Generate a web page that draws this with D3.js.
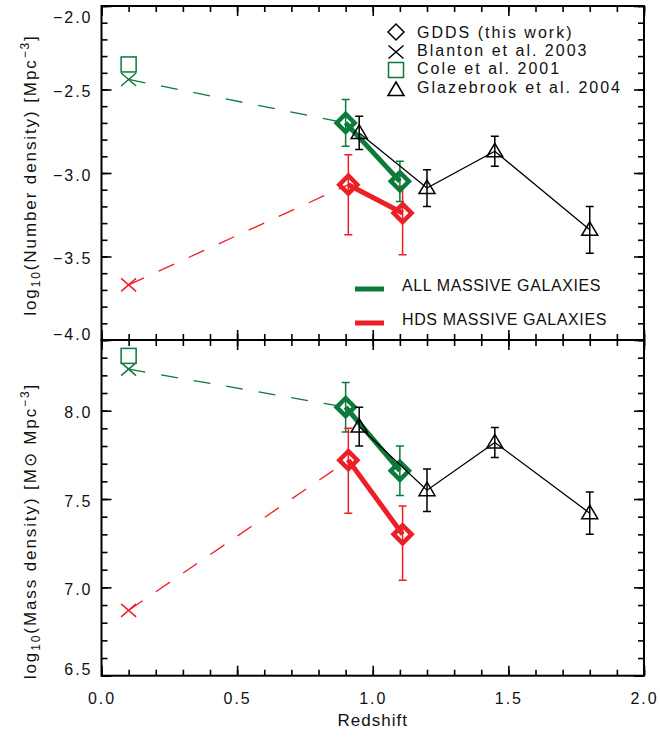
<!DOCTYPE html>
<html>
<head>
<meta charset="utf-8">
<script src="https://cdn.jsdelivr.net/npm/d3@7"></script>
<style>
  body { margin: 0; background: #fff; }
  svg text { font-family: "Liberation Sans", Arial, sans-serif; fill: #111; }
</style>
</head>
<body>
<div id="chart"></div>
<script>
// redshifts
var zAll = [0.9, 1.1];          // GDDS all massive
var zHds = [0.91, 1.11];        // GDDS HDS massive (slightly offset)
var zLocal = 0.1;               // Blanton / Cole
var zGlaze = [0.95, 1.2, 1.45, 1.8];

// log10 number density
var numAll = [-2.70, -3.05];
var numAllErr = [0.14, 0.12];
var numHds = [-3.07, -3.24];
var numHdsUp = [0.18, 0.16];
var numHdsDn = [0.30, 0.25];
var numBlantonAll = -2.44;
var numBlantonHds = -3.67;
var numColeAll = -2.35;
var numGlaze = [-2.76, -3.09, -2.87, -3.34];
var numGlazeErr = [0.10, 0.11, 0.09, 0.14];

// log10 mass density
var massAll = [8.02, 7.66];
var massAllErr = [0.14, 0.14];
var massHds = [7.72, 7.30];
var massHdsUp = [0.18, 0.16];
var massHdsDn = [0.30, 0.26];
var massBlantonAll = 8.235;
var massBlantonHds = 6.87;
var massColeAll = 8.31;
var massGlaze = [7.91, 7.55, 7.82, 7.42];
var massGlazeErr = [0.11, 0.12, 0.085, 0.12];

// ticks
var xMajor = [0, 0.5, 1.0, 1.5, 2.0];
var numMajor = [-4.0, -3.5, -3.0, -2.5, -2.0];
var massMajor = [6.5, 7.0, 7.5, 8.0];

var legendNames = ["GDDS (this work)", "Blanton et al. 2003", "Cole et al. 2001", "Glazebrook et al. 2004"];
var massiveNames = ["ALL MASSIVE GALAXIES", "HDS MASSIVE GALAXIES"];

var GREEN = "#0b7a3b", RED = "#ec1f27";

var W = 660, H = 739;
var svg = d3.select("#chart").append("svg").attr("width", W).attr("height", H);

var x = d3.scaleLinear().domain([0, 2]).range([101.5, 644]);
var yNum = d3.scaleLinear().domain([-4, -2]).range([340, 6]);
var yMass = d3.scaleLinear().domain([6.5, 8.4]).range([675.7, 340]);

function minorTicks(lo, hi) {
    var t = [];
    for (var i = Math.round(lo * 10); i <= Math.round(hi * 10); i++) t.push(i / 10);
    return t;
}

// symbol helpers
function diamond(g, cx, cy, r, color, w) {
    g.append("path")
        .attr("d", "M" + cx + "," + (cy - r) + "L" + (cx + r) + "," + cy + "L" + cx + "," + (cy + r) + "L" + (cx - r) + "," + cy + "Z")
        .attr("fill", "none").attr("stroke", color).attr("stroke-width", w).attr("stroke-linejoin", "miter");
}
function cross(g, cx, cy, color) {
    g.append("path")
        .attr("d", "M" + (cx - 7.5) + "," + (cy - 6.5) + "L" + (cx + 7.5) + "," + (cy + 6.5) +
                   "M" + (cx - 7.5) + "," + (cy + 6.5) + "L" + (cx + 7.5) + "," + (cy - 6.5))
        .attr("fill", "none").attr("stroke", color).attr("stroke-width", 1.5);
}
function square(g, cx, cy, color) {
    g.append("rect").attr("x", cx - 7.5).attr("y", cy - 7.5).attr("width", 15).attr("height", 15)
        .attr("fill", "none").attr("stroke", color).attr("stroke-width", 1.5);
}
function triangle(g, cx, cy, color) {
    g.append("path")
        .attr("d", "M" + cx + "," + (cy - 8) + "L" + (cx + 8) + "," + (cy + 5.5) + "L" + (cx - 8) + "," + (cy + 5.5) + "Z")
        .attr("fill", "none").attr("stroke", color).attr("stroke-width", 1.5);
}
function errbar(g, cx, yTop, yBot, color) {
    g.append("path")
        .attr("d", "M" + cx + "," + yTop + "L" + cx + "," + yBot +
                   "M" + (cx - 4) + "," + yTop + "L" + (cx + 4) + "," + yTop +
                   "M" + (cx - 4) + "," + yBot + "L" + (cx + 4) + "," + yBot)
        .attr("fill", "none").attr("stroke", color).attr("stroke-width", 1.5);
}

function drawAxes(y, yMajor, showX, topLabelShift) {
    var g = svg.append("g");
    var yr = y.range(), xr = x.range();
    var yMinor = minorTicks(y.domain()[0], y.domain()[1]);
    var xMinor = minorTicks(0, 2);

    function put(axis, tx, ty) {
        var a = g.append("g").attr("transform", "translate(" + tx + "," + ty + ")").call(axis);
        a.select(".domain").remove();
        a.selectAll("line").attr("stroke", "#000").attr("stroke-width", 1.6);
        return a;
    }
    // left
    put(d3.axisLeft(y).tickValues(yMinor).tickSize(-6).tickFormat(""), xr[0], 0);
    var left = put(d3.axisLeft(y).tickValues(yMajor).tickSize(-10).tickPadding(9).tickFormat(d3.format(".1f")), xr[0], 0);
    left.selectAll("text").style("font-size", "16px").style("letter-spacing", "2px").attr("dy", "0.45em")
        .attr("transform", function(d) {
            if (d === y.domain()[1] && topLabelShift) return "translate(0," + topLabelShift + ")";
            if (d === y.domain()[0]) return "translate(0,-8)";
            return null;
        });
    // right
    put(d3.axisRight(y).tickValues(yMinor).tickSize(-6).tickFormat(""), xr[1], 0);
    put(d3.axisRight(y).tickValues(yMajor).tickSize(-10).tickFormat(""), xr[1], 0);
    // top
    put(d3.axisTop(x).tickValues(xMinor).tickSize(-6).tickFormat(""), 0, yr[1]);
    put(d3.axisTop(x).tickValues(xMajor).tickSize(-10).tickFormat(""), 0, yr[1]);
    // bottom
    put(d3.axisBottom(x).tickValues(xMinor).tickSize(-6).tickFormat(""), 0, yr[0]);
    var bottom = put(d3.axisBottom(x).tickValues(xMajor).tickSize(-10).tickPadding(17).tickFormat(showX ? d3.format(".1f") : ""), 0, yr[0]);
    bottom.selectAll("text").style("font-size", "16px").style("letter-spacing", "2px");

    g.append("rect").attr("x", xr[0]).attr("y", yr[1]).attr("width", xr[1] - xr[0]).attr("height", yr[0] - yr[1])
        .attr("fill", "none").attr("stroke", "#000").attr("stroke-width", 2);
}

function drawPanel(y, all, allErr, hds, hdsUp, hdsDn, bAll, bHds, cAll, glaze, glazeErr) {
    var g = svg.append("g");
    var dash = "17,16";
    // dashed links from local values to GDDS
    g.append("line").attr("x1", x(zLocal)).attr("y1", y(bAll)).attr("x2", x(zAll[0])).attr("y2", y(all[0]))
        .attr("stroke", GREEN).attr("stroke-width", 1.3).attr("stroke-dasharray", dash);
    g.append("line").attr("x1", x(zLocal)).attr("y1", y(bHds)).attr("x2", x(zHds[0])).attr("y2", y(hds[0]))
        .attr("stroke", RED).attr("stroke-width", 1.3).attr("stroke-dasharray", dash);

    cross(g, x(zLocal), y(bAll), GREEN);
    cross(g, x(zLocal), y(bHds), RED);
    square(g, x(zLocal), y(cAll), GREEN);

    // error bars
    zAll.forEach(function(z, i) { errbar(g, x(z), y(all[i] + allErr[i]), y(all[i] - allErr[i]), GREEN); });
    zHds.forEach(function(z, i) { errbar(g, x(z), y(hds[i] + hdsUp[i]), y(hds[i] - hdsDn[i]), RED); });

    var line = d3.line().x(function(d) { return x(d[0]); }).y(function(d) { return y(d[1]); });
    g.append("path").attr("d", line(d3.zip(zAll, all))).attr("fill", "none").attr("stroke", GREEN).attr("stroke-width", 5);
    g.append("path").attr("d", line(d3.zip(zHds, hds))).attr("fill", "none").attr("stroke", RED).attr("stroke-width", 5);
    zAll.forEach(function(z, i) { diamond(g, x(z), y(all[i]), 9, GREEN, 4.5); });
    zHds.forEach(function(z, i) { diamond(g, x(z), y(hds[i]), 9, RED, 4.5); });

    // Glazebrook
    zGlaze.forEach(function(z, i) { errbar(g, x(z), y(glaze[i] + glazeErr[i]), y(glaze[i] - glazeErr[i]), "#000"); });
    g.append("path").attr("d", line(d3.zip(zGlaze, glaze))).attr("fill", "none").attr("stroke", "#000").attr("stroke-width", 1.3);
    zGlaze.forEach(function(z, i) { triangle(g, x(z), y(glaze[i]), "#000"); });
}

drawPanel(yNum, numAll, numAllErr, numHds, numHdsUp, numHdsDn, numBlantonAll, numBlantonHds, numColeAll, numGlaze, numGlazeErr);
drawPanel(yMass, massAll, massAllErr, massHds, massHdsUp, massHdsDn, massBlantonAll, massBlantonHds, massColeAll, massGlaze, massGlazeErr);

drawAxes(yNum, numMajor, false, 9);
drawAxes(yMass, massMajor, true, 0);

// symbol legend
var lg = svg.append("g");
var ly = [32, 50, 68, 87];
diamond(lg, 396, ly[0], 8, "#000", 1.5);
cross(lg, 396, ly[1] + 2, "#000");
square(lg, 396, ly[2] + 2, GREEN);
triangle(lg, 396, ly[3] + 3, "#000");
legendNames.forEach(function(n, i) {
    lg.append("text").attr("x", 417).attr("y", ly[i]).attr("dy", "0.36em")
        .style("font-size", "16px").style("letter-spacing", "2px").text(n);
});

// massive galaxies legend
var mcol = [GREEN, RED], my = [289, 323];
massiveNames.forEach(function(n, i) {
    lg.append("line").attr("x1", 355).attr("x2", 384).attr("y1", my[i]).attr("y2", my[i])
        .attr("stroke", mcol[i]).attr("stroke-width", 5);
    lg.append("text").attr("x", 402).attr("y", my[i] - 4).attr("dy", "0.36em")
        .style("font-size", "16px").style("letter-spacing", "0.6px").text(n);
});

// axis titles
svg.append("text").attr("x", 372.75).attr("y", 726).attr("text-anchor", "middle")
    .style("font-size", "17px").style("letter-spacing", "1px").text("Redshift");

var t1 = svg.append("text").attr("transform", "translate(36,175) rotate(-90)").attr("text-anchor", "middle")
    .style("font-size", "17px").style("letter-spacing", "1.9px");
t1.append("tspan").text("log");
t1.append("tspan").attr("dy", 4).style("font-size", "12px").text("10");
t1.append("tspan").attr("dy", -4).text("(Number density)  [Mpc");
t1.append("tspan").attr("dy", -7).style("font-size", "12px").text("−3");
t1.append("tspan").attr("dy", 7).text("]");

var t2 = svg.append("text").attr("transform", "translate(36,531) rotate(-90)").attr("text-anchor", "middle")
    .style("font-size", "17px").style("letter-spacing", "1.9px");
t2.append("tspan").text("log");
t2.append("tspan").attr("dy", 4).style("font-size", "12px").text("10");
t2.append("tspan").attr("dy", -4).text("(Mass density)  [M");
t2.append("tspan").text("⊙");
t2.append("tspan").text(" Mpc");
t2.append("tspan").attr("dy", -7).style("font-size", "12px").text("−3");
t2.append("tspan").attr("dy", 7).text("]");
</script>
</body>
</html>
